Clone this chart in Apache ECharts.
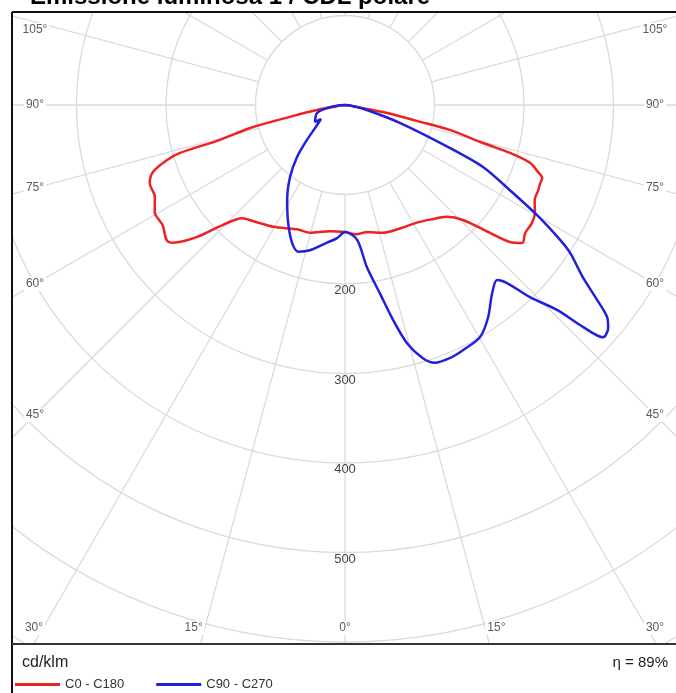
<!DOCTYPE html>
<html>
<head>
<meta charset="utf-8">
<script src="https://cdn.jsdelivr.net/npm/echarts@6/dist/echarts.min.js"></script>
<style>
  html, body { margin: 0; padding: 0; background: #fff; }
  #chart { width: 676px; height: 693px; }
</style>
</head>
<body>
<div id="chart"></div>
<script>
  // gamma angle (0 = straight down, negative = left half) and intensity in cd/klm
  const redGamma = [-90, -84, -80.5, -79.9, -78, -76.4, -74.4, -73.8, -72.8, -70.8, -68.2, -64.2, -60.6, -56.6, -52.8, -51.3, -48.3, -45.5, -42.3, -37, -30.5, -21.2, -15.3, -6.8,
    0, 5, 10, 16.5, 24, 31.4, 37, 42.3, 45.7, 48.6, 50.3, 52.1, 54.6, 57.7, 60.4, 63.4, 66, 68.2, 69.7, 70.9, 72.6, 73.8, 74.6, 76.6, 77.5, 79.5, 80.5, 84, 90];
  const redValue = [0, 5, 14, 32, 60, 109, 145, 192, 208, 227, 235, 236, 244, 244, 250, 246, 222, 191, 171, 164, 158, 149, 148, 142,
    142, 145, 144, 149, 151, 154, 160, 169, 184, 216, 240, 251, 247, 247, 244, 237, 236, 235, 235, 228, 217, 192, 160, 121, 82, 43, 14, 5, 0];

  const blueGamma = [-90, -86, -80.5, -74, -60.5, -59.7, -52.5, -47.4, -42.7, -37.4, -31.4, -25.8, -21, -17.7, -13.6, -7.4, -3.4,
    0, 5.1, 7.7, 10.5, 12.6, 14.6, 17.1, 19.2, 22.5, 25.7, 30.2, 34, 38, 41, 42.3, 43.9, 46, 47, 48, 49.8, 51, 52.3, 54.1, 56.7, 57.9, 60.2, 62.7, 65.8, 67.7, 71.9, 77.2, 84, 90];
  const blueValue = [0, 8, 20, 32.5, 38.5, 31, 42, 58, 79, 101, 124, 146, 165, 172, 167, 155, 149,
    142, 151, 183, 214, 246, 275, 296, 305, 306, 304, 300, 286, 267, 259, 269, 298, 330, 364, 388, 385, 377, 356, 328, 301, 284, 247, 207, 169, 127, 65, 25, 6, 0];

  const radiusTicks = [200, 300, 400, 500];
  const sideAngles = [105, 90, 75, 60, 45];
  const bottomAngles = [-30, -15, 0, 15, 30];

  const CX = 345, CY = 105, PX = 0.895, R_MAX = 800;
  const chart = echarts.init(document.getElementById('chart'));

  function pairs(g, v) {
    return g.map((a, i) => [v[i], a]);
  }

  const gridLine = { color: '#dadada', width: 1.3 };
  const fontFamily = '"Liberation Sans", Arial, sans-serif';
  const labelFont = '12px ' + fontFamily;

  const graphics = [
    { type: 'rect', z: 50, shape: { x: 0, y: 0, width: 676, height: 12 }, style: { fill: '#fff' } },
    { type: 'rect', z: 50, shape: { x: 0, y: 0, width: 12, height: 693 }, style: { fill: '#fff' } },
    { type: 'rect', z: 50, shape: { x: 0, y: 644, width: 676, height: 49 }, style: { fill: '#fff' } },
    { type: 'line', z: 60, shape: { x1: 12, y1: 12, x2: 676, y2: 12 }, style: { stroke: '#111', lineWidth: 2 } },
    { type: 'line', z: 60, shape: { x1: 12, y1: 12, x2: 12, y2: 693 }, style: { stroke: '#111', lineWidth: 2 } },
    { type: 'line', z: 60, shape: { x1: 12, y1: 644, x2: 676, y2: 644 }, style: { stroke: '#333', lineWidth: 2 } },
    { type: 'text', z: 70, style: { text: 'Emissione luminosa 1 / CDL polare', x: 30, y: 9, font: 'bold 24px ' + fontFamily, fill: '#000', textVerticalAlign: 'bottom' } },
    { type: 'text', z: 70, style: { text: 'cd/klm', x: 22, y: 663, font: '16px ' + fontFamily, fill: '#222', textVerticalAlign: 'middle' } },
    { type: 'text', z: 70, style: { text: 'η = 89%', x: 668, y: 663, font: '15px ' + fontFamily, fill: '#222', textAlign: 'right', textVerticalAlign: 'middle' } }
  ];

  sideAngles.forEach((a) => {
    const t = a * Math.PI / 180;
    const y = Math.max(30, CY + 310 * Math.cos(t) / Math.sin(t));
    [35, 655].forEach((x) => {
      graphics.push({ type: 'text', z: 70, style: { text: a + '°', x, y, font: labelFont, fill: '#5a5a5a', textAlign: 'center', textVerticalAlign: 'middle', backgroundColor: '#fff', padding: [1, 2] } });
    });
  });
  bottomAngles.forEach((a) => {
    const x = Math.min(655, Math.max(34, CX + 565 * Math.tan(a * Math.PI / 180)));
    graphics.push({ type: 'text', z: 70, style: { text: Math.abs(a) + '°', x, y: 628, font: labelFont, fill: '#5a5a5a', textAlign: 'center', textVerticalAlign: 'middle', backgroundColor: '#fff', padding: [1, 2] } });
  });

  chart.setOption({
    animation: false,
    polar: [
      { center: [CX, CY], radius: R_MAX * PX },
      { center: [CX, CY], radius: [100 * PX, R_MAX * PX] }
    ],
    angleAxis: [
      { polarIndex: 0, type: 'value', min: -180, max: 180, startAngle: 90, clockwise: false, show: false },
      {
        polarIndex: 1, type: 'value', min: 0, max: 360, interval: 15, startAngle: 270, clockwise: false,
        axisLine: { show: false }, axisTick: { show: false }, axisLabel: { show: false },
        splitLine: { show: true, lineStyle: gridLine }
      }
    ],
    radiusAxis: [
      { polarIndex: 0, type: 'value', min: 0, max: R_MAX, show: false },
      {
        polarIndex: 1, type: 'value', min: 100, max: R_MAX, interval: 100,
        axisLine: { show: false }, axisTick: { show: false },
        splitLine: { show: true, lineStyle: gridLine },
        axisLabel: {
          formatter: (v) => (radiusTicks.includes(v) ? String(v) : ''),
          color: '#444', fontSize: 13, fontFamily,
          margin: 0, align: 'center', verticalAlign: 'top'
        }
      }
    ],
    legend: {
      z: 80, left: 10, top: 673, icon: 'rect', itemWidth: 45, itemHeight: 3, itemGap: 32,
      textStyle: { fontSize: 13, color: '#333', fontFamily },
      data: ['C0 - C180', 'C90 - C270']
    },
    series: [
      {
        name: 'C0 - C180', type: 'line', coordinateSystem: 'polar', polarIndex: 0,
        data: pairs(redGamma, redValue), symbol: 'none', smooth: 0.3,
        lineStyle: { color: '#ee2222', width: 2.5 }, itemStyle: { color: '#ee2222' }
      },
      {
        name: 'C90 - C270', type: 'line', coordinateSystem: 'polar', polarIndex: 0,
        data: pairs(blueGamma, blueValue), symbol: 'none', smooth: 0.3,
        lineStyle: { color: '#2020dd', width: 2.5 }, itemStyle: { color: '#2020dd' }
      }
    ],
    graphic: graphics
  });
</script>
</body>
</html>
